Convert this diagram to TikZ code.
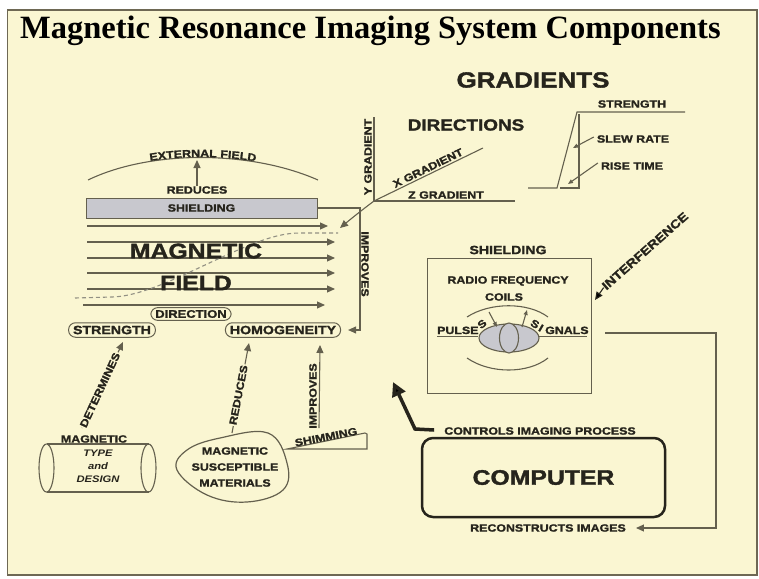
\documentclass[tikz,border=0pt]{standalone}
\usepackage{fontspec}
\usetikzlibrary{arrows.meta,decorations.text}
\newfontfamily\blk{Liberation Sans}[FakeStretch=1.18, BoldFeatures={FakeBold=1.6}]
\newfontfamily\ttl{Liberation Serif}
\definecolor{paper}{RGB}{250,246,210}
\definecolor{ink}{RGB}{38,36,28}
\definecolor{wire}{RGB}{100,96,78}
\definecolor{frame}{RGB}{110,104,84}
\definecolor{shade}{RGB}{200,200,206}
\begin{document}
\begin{tikzpicture}[x=1pt,y=-1pt,
  lbl/.style={font=\blk\bfseries\fontsize{10.5}{12}\selectfont, text=ink, inner sep=0pt},
  lblL/.style={font=\blk\bfseries\fontsize{12}{14}\selectfont, text=ink, inner sep=0pt},
  big/.style={font=\blk\bfseries\fontsize{21}{24}\selectfont, text=ink, inner sep=0pt},
  onpath/.style={fill=paper, inner xsep=1pt, inner ysep=0.5pt},
  wire/.style={draw=wire, line width=1.1pt},
  tip/.style={-{Triangle[length=8pt,width=7pt]}},
  smalltip/.style={-{Triangle[length=5pt,width=4pt]}},
  pill/.style={draw=wire, line width=1pt, rounded corners=7pt, inner xsep=4.5pt, inner ysep=3pt}]
\useasboundingbox (0,0) rectangle (759,578);
\fill[white] (0,0) rectangle (759,578);
\draw[fill=paper, draw=frame, line width=1.2pt] (7.5,10) rectangle (757,575);

% title
\node[anchor=base west, font=\ttl\bfseries\fontsize{32.5}{36}\selectfont, text=black, inner sep=0pt]
  (title) at (20,38) {Magnetic Resonance Imaging System Components};

% ---------- gradients ----------
\node[big, font=\blk\bfseries\fontsize{22}{26}\selectfont] (grad) at (533,80) {GRADIENTS};
\node[big, font=\blk\bfseries\fontsize{16}{19}\selectfont] (dirs) at (466,125) {DIRECTIONS};

% trapezoidal waveform
\draw[wire] (528,188) -- (557,188) -- (577,112) -- (685,112);
\draw[wire] (579,114) -- (579,188) -- (560,188);
\node[lbl] (gstr) at (632,104) {STRENGTH};
\node[lbl] (slew) at (633,139) {SLEW RATE};
\node[lbl] (rise) at (632,166) {RISE TIME};
\coordinate (slewTip) at (573,148);
\coordinate (riseTip) at (568,184);
\draw[wire, smalltip] (slew.west) ++(-3,-2) -- (slewTip);
\draw[wire, smalltip] (rise.west) ++(-3,-3) -- (riseTip);

% gradient axes
\coordinate (gO) at (374,201);
\coordinate (yEnd) at (374,117);
\coordinate (zEnd) at (515,201);
\coordinate (xEnd) at (483,148);
\draw[wire] (yEnd) -- (gO) -- (zEnd);
\draw[wire] (gO) -- (xEnd);
\node[lbl, rotate=90] (ygrad) at (368,157) {Y GRADIENT};
\node[lbl, rotate=26] (xgrad) at (428,168) {X GRADIENT};
\node[lbl] (zgrad) at (446,195) {Z GRADIENT};
\coordinate (fieldIn) at (340,228);
\draw[wire, tip] (gO) .. controls (362,210) and (352,218) .. (fieldIn);

% ---------- main magnet ----------
\coordinate (arcL) at (88,180);
\coordinate (arcR) at (318,180);
\draw[wire] (arcL) .. controls (150,150) and (250,150) .. (arcR);
\path[decorate, decoration={text along path, text align=center, raise=0.5pt, text color=ink,
  text={|\blk\bfseries\fontsize{10.5}{12}\selectfont|EXTERNAL FIELD}}]
  (arcL) .. controls (150,150) and (250,150) .. (arcR);
\node[lbl] (reduces) at (197,190) {REDUCES};
\coordinate (extField) at (197,160);
\draw[wire, tip] (reduces.north) -- (extField);

\node[lbl, draw=wire, fill=shade, line width=1pt, minimum width=231pt, minimum height=20pt]
  (shield) at (201.5,208) {SHIELDING};

% field lines
\foreach \yy/\xa/\xb in {226/87/328, 242/87/335, 258/87/335, 273/87/335, 289/87/335, 305/83/325}
  \draw[wire, tip] (\xa,\yy) -- (\xb,\yy);

\draw[wire, draw=wire!70, dash pattern=on 4pt off 3pt]
  (75,298) -- (112,297) .. controls (150,296) and (200,265) .. (250,245)
  .. controls (270,237) and (285,233) .. (300,233) -- (338,233);

\node[big] (mag) at (196,251) {MAGNETIC};
\node[big] (fld) at (196,283) {FIELD};

\node[lbl, pill, font=\blk\bfseries\fontsize{11}{13}\selectfont, inner ysep=2.5pt] (dir) at (191,314) {DIRECTION};
\node[lblL, pill] (str) at (112,330) {STRENGTH};
\node[lblL, pill] (homog) at (283,330) {HOMOGENEITY};

% shielding improves homogeneity
\coordinate (bendA) at (360,208);
\coordinate (bendB) at (360,330);
\draw[wire, tip, shorten >=7pt] (shield.east) -- (bendA) -- (bendB) -- (homog.east);
\node[lbl, rotate=-90] (impr1) at (365,264) {IMPROVES};

% ---------- lower left ----------
% magnet cylinder
\draw[wire] (46.5,468) ellipse [x radius=7.5, y radius=24];
\draw[wire] (148.5,468) ellipse [x radius=7.5, y radius=24];
\draw[wire] (46.5,444) -- (148.5,444);
\draw[wire] (46.5,492) -- (148.5,492);
\node[lbl] (magtype) at (94,439) {MAGNETIC};
\node[lbl, font=\blk\bfseries\itshape\fontsize{9.5}{11}\selectfont] (type) at (98,453) {TYPE};
\node[lbl, font=\blk\bfseries\itshape\fontsize{9.5}{11}\selectfont] (and) at (98,466) {and};
\node[lbl, font=\blk\bfseries\itshape\fontsize{9.5}{11}\selectfont] (design) at (98,479) {DESIGN};

\coordinate (detFrom) at (82,428);
\coordinate (detTip) at (123,342);
\draw[wire, tip] (detFrom) -- (detTip);
\node[lbl, onpath, rotate=65] (det) at (100,390) {DETERMINES};

% susceptible materials blob
\draw[wire, line width=1.2pt] plot[smooth cycle, tension=0.65] coordinates
  {(220,438) (268,433) (287,463) (283,490) (247,502) (207,495) (177,470) (187,450)};
\node[lbl, align=center, font=\blk\bfseries\fontsize{10.5}{16}\selectfont] (susc) at (235,467)
  {MAGNETIC\\SUSCEPTIBLE\\MATERIALS};

\coordinate (redFrom) at (232,433);
\coordinate (redTip) at (249,343);
\draw[wire, tip] (redFrom) -- (redTip);
\node[lbl, onpath, rotate=79] (red2) at (238.5,395) {REDUCES};

% shimming
\draw[wire] (287,449) -- (365,433) -- (367,434) -- (367,449) -- cycle;
\node[lbl, rotate=11] (shim) at (326,437) {SHIMMING};
\coordinate (impFrom) at (319,428);
\coordinate (impTip) at (320,345);
\draw[wire, tip] (impFrom) -- (impTip);
\node[lbl, rotate=90] (impr2) at (313,396) {IMPROVES};

% ---------- radio frequency ----------
\node[draw=wire, line width=1pt, minimum width=164pt, minimum height=135pt] (rfbox) at (509,325.5) {};
\node[lblL] (rfshield) at (508,250) {SHIELDING};
\node[lbl] (radio) at (508,281) {RADIO FREQUENCY};
\node[lbl] (coils) at (504,297) {COILS};
\draw[wire] (467,317) .. controls (490,302) and (528,302) .. (548,317);
\draw[wire] (467,358) .. controls (490,374) and (528,374) .. (548,358);
\draw[wire, fill=shade] (509,338) ellipse [x radius=30, y radius=14];
\draw[wire, fill=shade] (509,338) ellipse [x radius=9.5, y radius=15];

\node[lbl, anchor=base west] (pulse) at (437,334) {PULSE};
\draw[wire] (437,336.5) -- (478,336.5);
\node[lbl, rotate=40] (pulseS) at (482,324) {S};
\draw[wire, smalltip] (489,312) -- (497,327);
\draw[wire, smalltip] (522,327) -- (527,310);
\node[lbl, rotate=-30] (sigS) at (535,324) {S};
\node[lbl, rotate=-30] (sigI) at (541,328) {I};
\node[lbl, anchor=base west] (gnals) at (545,334) {GNALS};
\draw[wire] (539,336.5) -- (587,336.5);

\node[lblL, rotate=41.5] (interf) at (645,251) {INTERFERENCE};
\coordinate (interfTip) at (595,300);
\draw[draw=ink, line width=1.1pt, tip] (interf.west) -- (interfTip);

% ---------- computer ----------
\node[big, draw=ink, line width=2.5pt, rounded corners=11pt, minimum width=243pt, minimum height=79pt]
  (comp) at (543.5,477.5) {COMPUTER};
\node[lbl] (ctrl) at (540,431) {CONTROLS IMAGING PROCESS};
\node[lbl] (recon) at (548,528) {RECONSTRUCTS IMAGES};
\coordinate (ctrlBend) at (415,429);
\coordinate (ctrlTip) at (393,382);
\draw[draw=ink, line width=3.5pt, -{Triangle[length=14pt,width=14pt]}]
  (ctrl.west) ++(-10,-1) -- (ctrlBend) -- (ctrlTip);

\coordinate (sigOut) at (605,333);
\coordinate (loopA) at (716,333);
\coordinate (loopB) at (716,528);
\draw[wire, tip, shorten >=10pt] (sigOut) -- (loopA) -- (loopB) -- (recon.east);
\end{tikzpicture}
\end{document}
